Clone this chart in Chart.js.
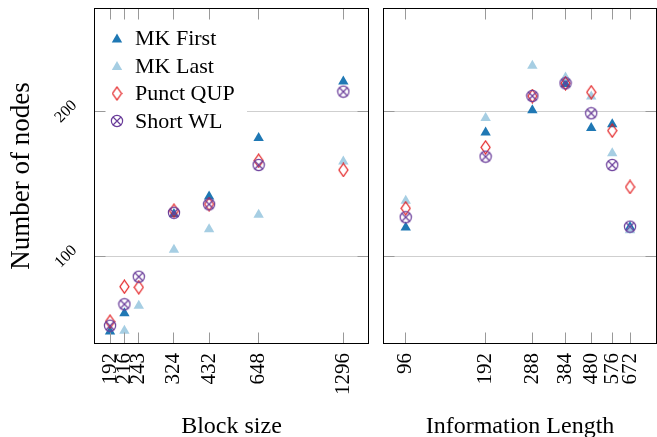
<!DOCTYPE html>
<html><head><meta charset="utf-8">
<script src="https://cdn.jsdelivr.net/npm/chart.js@4/dist/chart.umd.min.js"></script>
<style>
html,body{margin:0;padding:0;background:#fff;}
#wrap{position:relative;width:657px;height:437px;overflow:hidden;background:#fff}
.c{position:absolute;left:0;top:0;width:657px;height:437px}
</style></head><body>
<div id="wrap"><div class="c"><canvas id="left" width="657" height="437"></canvas></div><div class="c"><canvas id="right" width="657" height="437"></canvas></div></div>
<script>
// ---- data ----
const seriesNames = ['MK First', 'MK Last', 'Punct QUP', 'Short WL'];
const yTickValues = [100, 200];

const blockSizes    = [192, 216, 243, 324, 432, 648, 1296];
const blockMkFirst  = [48.5, 61.0, null, 129.5, 141.5, 181.8, 220.8];
const blockMkLast   = [null, 49.0, 66.2, 104.8, 119.0, 128.9, 165.7];
const blockPunct    = [55.2, 79.3, 78.9, 131.7, 136.3, 166.2, 159.8];
const blockShortWL  = [52.4, 67.2, 86.2, 130.3, 136.1, 163.2, 213.8];

const infoLengths   = [96, 192, 288, 384, 480, 576, 672];
const infoMkFirst   = [120.2, 185.7, 200.9, 219.0, 188.7, 191.4, 120.5];
const infoMkLast    = [138.6, 195.6, 231.7, 223.6, 210.5, 171.4, 118.3];
const infoPunct     = [133.4, 175.4, 210.8, 219.6, 213.4, 186.9, 148.1];
const infoShortWL   = [127.2, 169.0, 210.8, 219.6, 198.9, 163.2, 120.7];

// ---- styling ----
const SERIF = "'Liberation Serif', 'Times New Roman', serif";
Chart.defaults.font.family = SERIF;
Chart.defaults.color = '#000';

const C_DARK = '#1f78b4', C_LIGHT = '#a6cee3', C_RED = '#e31a1c', C_PURPLE = '#6a3d9a';

function makeDiamond() {
  const c = document.createElement('canvas'); c.width = 11; c.height = 15;
  const g = c.getContext('2d');
  g.strokeStyle = C_RED; g.lineWidth = 1.2;
  g.beginPath(); g.moveTo(5.5, 1); g.lineTo(10, 7.5); g.lineTo(5.5, 14); g.lineTo(1, 7.5); g.closePath(); g.stroke();
  return c;
}
function makeOtimes() {
  const c = document.createElement('canvas'); c.width = 14; c.height = 14;
  const g = c.getContext('2d');
  g.strokeStyle = C_PURPLE; g.lineWidth = 1.2;
  const r = 5.6, cx = 7, cy = 7, d = r * Math.SQRT1_2;
  g.beginPath(); g.arc(cx, cy, r, 0, Math.PI * 2); g.stroke();
  g.beginPath(); g.moveTo(cx - d, cy - d); g.lineTo(cx + d, cy + d);
  g.moveTo(cx + d, cy - d); g.lineTo(cx - d, cy + d); g.stroke();
  return c;
}
const diamondImg = makeDiamond();
const otimesImg = makeOtimes();

const styles = [
  {pointStyle: 'triangle', pointRadius: 6, backgroundColor: C_DARK, borderColor: C_DARK, borderWidth: 0, order: 3},
  {pointStyle: 'triangle', pointRadius: 6, backgroundColor: C_LIGHT, borderColor: C_LIGHT, borderWidth: 0, order: 2},
  {pointStyle: diamondImg, pointRadius: 6, backgroundColor: C_RED, borderColor: C_RED, borderWidth: 0, order: 1},
  {pointStyle: otimesImg, pointRadius: 6, backgroundColor: C_PURPLE, borderColor: C_PURPLE, borderWidth: 0, order: 0}
];

function buildDatasets(xs, seriesList) {
  return seriesList.map((ys, i) => Object.assign({
    label: seriesNames[i],
    data: xs.map((x, j) => ys[j] == null ? null : {x: x, y: ys[j]}).filter(Boolean),
    pointHoverRadius: 6
  }, styles[i]));
}

function drawMarker(ctx, i, x, y) {
  const s = styles[i];
  if (typeof s.pointStyle === 'string') {
    const r = s.pointRadius; let rad = 0;
    ctx.fillStyle = s.backgroundColor;
    ctx.beginPath();
    ctx.moveTo(x + Math.sin(rad) * r, y - Math.cos(rad) * r);
    rad += Math.PI * 2 / 3; ctx.lineTo(x + Math.sin(rad) * r, y - Math.cos(rad) * r);
    rad += Math.PI * 2 / 3; ctx.lineTo(x + Math.sin(rad) * r, y - Math.cos(rad) * r);
    ctx.closePath(); ctx.fill();
  } else {
    const im = s.pointStyle;
    ctx.drawImage(im, x - im.width / 2, y - im.height / 2);
  }
}

const framePlugin = {
  id: 'frame',
  afterDraw(chart) {
    const ctx = chart.ctx, a = chart.chartArea;
    const xs = chart.scales.x, ys = chart.scales.y;
    const L = Math.round(a.left) - 0.5, R = Math.round(a.right) + 0.5;
    const T = Math.round(a.top) - 0.5, B = Math.round(a.bottom) + 0.5;
    ctx.save();
    ctx.strokeStyle = '#999'; ctx.lineWidth = 1;
    ctx.beginPath();
    xs.ticks.forEach(t => {
      const px = Math.round(xs.getPixelForValue(t.value) - 0.5) + 0.5;
      ctx.moveTo(px, B); ctx.lineTo(px, B - 11);
      ctx.moveTo(px, T); ctx.lineTo(px, T + 11);
    });
    ys.ticks.forEach(t => {
      const py = Math.round(ys.getPixelForValue(t.value) - 0.5) + 0.5;
      ctx.moveTo(L, py); ctx.lineTo(L + 11, py);
      ctx.moveTo(R, py); ctx.lineTo(R - 11, py);
    });
    ctx.stroke();
    ctx.strokeStyle = '#000'; ctx.lineWidth = 1;
    ctx.strokeRect(L, T, R - L, B - T);
    ctx.restore();
  }
};

const legendPlugin = {
  id: 'insideLegend',
  afterDatasetsDraw(chart) {
    const ctx = chart.ctx, a = chart.chartArea;
    ctx.save();
    ctx.fillStyle = '#fff';
    ctx.fillRect(a.left + 1, 22, 151, 113);
    const rows = [38.5, 66, 93.5, 121];
    ctx.font = '22px ' + SERIF;
    ctx.textBaseline = 'middle';
    chart.data.datasets.forEach((d, i) => {
      drawMarker(ctx, i, 117, rows[i] + (typeof styles[i].pointStyle === 'string' ? 1 : 0));
      ctx.fillStyle = '#000';
      ctx.fillText(d.label, 135, rows[i] + 1);
    });
    ctx.restore();
  }
};

function makeChart(id, xs, seriesList, xMin, xMax, xTitle, opts) {
  return new Chart(document.getElementById(id), {
    type: 'scatter',
    data: {datasets: buildDatasets(xs, seriesList)},
    options: {
      responsive: false, animation: false, devicePixelRatio: 1,
      layout: {autoPadding: false, padding: {top: 9, right: opts.padRight, bottom: 0, left: 0}},
      plugins: {legend: {display: false}, tooltip: {enabled: false}},
      scales: {
        x: {
          type: 'logarithmic', min: xMin, max: xMax,
          afterBuildTicks: s => { s.ticks = xs.map(v => ({value: v})); },
          afterFit: s => { s.height = 94; s.paddingLeft = 0; s.paddingRight = 0; },
          grid: {display: false, drawTicks: false},
          border: {display: false},
          ticks: {autoSkip: false, minRotation: 90, maxRotation: 90, padding: 10,
                  font: {size: 21, family: SERIF}, color: '#000',
                  callback: v => String(v)},
          title: {display: true, text: xTitle, font: {size: 24, family: SERIF, lineHeight: '20px'},
                  padding: {top: 0, bottom: 0}, color: '#000'}
        },
        y: {
          type: 'linear', min: 40.5, max: 270.8,
          afterBuildTicks: s => { s.ticks = yTickValues.map(v => ({value: v})); },
          afterFit: s => { s.width = opts.yWidth; s.paddingTop = 0; s.paddingBottom = 0; },
          grid: {color: '#cfcfcf', lineWidth: 1, drawTicks: false},
          border: {display: false},
          ticks: {display: opts.yLabels, minRotation: 45, maxRotation: 45, crossAlign: 'center', padding: 17,
                  font: {size: 16, family: SERIF}, color: '#000', callback: v => String(v)},
          title: {display: opts.yLabels, text: 'Number of nodes', font: {size: 27, family: SERIF, lineHeight: '30px'},
                  padding: {top: 7, bottom: 0}, color: '#000'}
        }
      }
    },
    plugins: opts.legend ? [legendPlugin, framePlugin] : [framePlugin]
  });
}

makeChart('left', blockSizes, [blockMkFirst, blockMkLast, blockPunct, blockShortWL], 169.8, 1586, 'Block size',
  {padRight: 289, yWidth: 95, yLabels: true, legend: true});
makeChart('right', infoLengths, [infoMkFirst, infoMkLast, infoPunct, infoShortWL], 79.5, 842, 'Information Length',
  {padRight: 1, yWidth: 384, yLabels: false, legend: false});
</script>
</body></html>
